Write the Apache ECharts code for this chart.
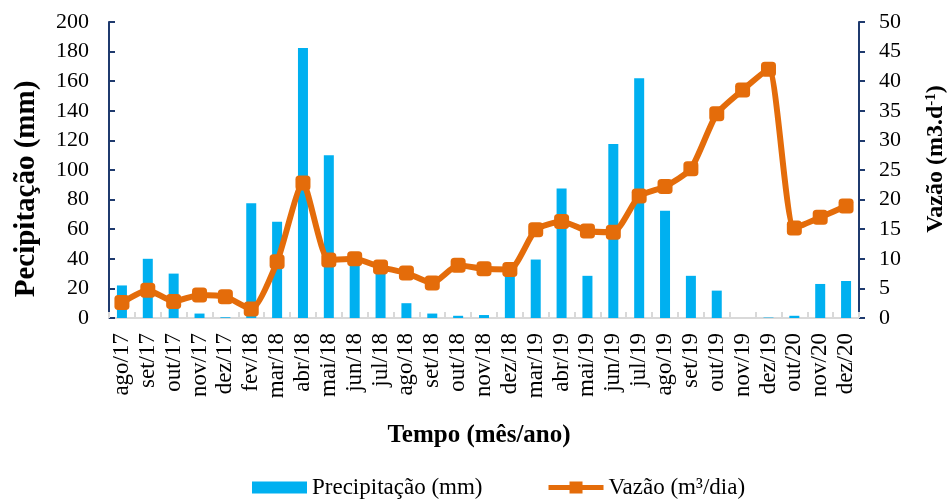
<!DOCTYPE html>
<html>
<head>
<meta charset="utf-8">
<script src="https://cdn.jsdelivr.net/npm/echarts@6/dist/echarts.min.js"></script>
<style>
html,body{margin:0;padding:0;background:#fff;}
#chart{width:947px;height:499px;}
</style>
</head>
<body>
<div id="chart"></div>
<script>
var categories = ['ago/17','set/17','out/17','nov/17','dez/17','fev/18','mar/18','abr/18','mai/18','jun/18','jul/18','ago/18','set/18','out/18','nov/18','dez/18','mar/19','abr/19','mai/19','jun/19','jul/19','ago/19','set/19','out/19','nov/19','dez/19','out/20','nov/20','dez/20'];
var precipitacao = [22, 40, 30, 3, 0.5, 77.5, 65, 182.5, 110, 38, 33, 10, 3, 1.5, 2, 32, 39.5, 87.5, 28.5, 117.5, 162, 72.5, 28.5, 18.5, 0, 0.3, 1.5, 23, 25];
var vazao = [2.6, 4.7, 2.8, 3.9, 3.6, 1.5, 9.5, 22.8, 9.8, 10, 8.6, 7.6, 5.9, 8.9, 8.3, 8.2, 14.9, 16.3, 14.7, 14.5, 20.6, 22.2, 25.2, 34.5, 38.5, 42, 15.2, 17, 18.9];
var leftTitle = 'Pecipitação (mm)';
var rightTitle = 'Vazão (m3.d{sup|-1})';
var xTitle = 'Tempo (mês/ano)';
var seriesNames = ['Precipitação (mm)', 'Vazão (m³/dia)'];

var FONT = 'Liberation Serif';
var lineIcon = 'path://M0,3.5 L21,3.5 L21,0 L34,0 L34,3.5 L55,3.5 L55,8.5 L34,8.5 L34,12 L21,12 L21,8.5 L0,8.5 Z';
var chart = echarts.init(document.getElementById('chart'), null, {renderer:'canvas'});
chart.setOption({
  backgroundColor: '#ffffff',
  animation: false,
  grid: {left: 109, right: 88, top: 22, bottom: 181},
  legend: {
    left: 247, top: 471,
    itemGap: 66, itemWidth: 55, itemHeight: 12,
    textStyle: {fontFamily: FONT, fontSize: 23, color: '#000'},
    data: [
      {name: seriesNames[0], icon: 'rect'},
      {name: seriesNames[1], icon: lineIcon}
    ]
  },
  xAxis: {
    type: 'category',
    data: categories,
    boundaryGap: true,
    axisLine: {lineStyle: {color: '#d9d9d9', width: 2}},
    axisTick: {show: true, inside: true, length: 6, lineStyle: {color: '#d9d9d9', width: 2}},
    axisLabel: {interval: 0, rotate: 90, margin: 15, fontFamily: FONT, fontSize: 23, color: '#000'}
  },
  yAxis: [
    {
      type: 'value', min: 0, max: 200, interval: 20, position: 'left',
      splitLine: {show: false},
      axisLine: {show: true, lineStyle: {color: '#1f3a6e', width: 2}},
      axisTick: {show: true, inside: true, length: 6, lineStyle: {color: '#1f3a6e', width: 2}},
      axisLabel: {margin: 20, fontFamily: FONT, fontSize: 22, color: '#000'}
    },
    {
      type: 'value', min: 0, max: 50, interval: 5, position: 'right',
      splitLine: {show: false},
      axisLine: {show: true, lineStyle: {color: '#1f3a6e', width: 2}},
      axisTick: {show: true, inside: false, length: 6, lineStyle: {color: '#1f3a6e', width: 2}},
      axisLabel: {margin: 20, fontFamily: FONT, fontSize: 22, color: '#000'}
    }
  ],
  series: [
    {
      name: seriesNames[0], type: 'bar', yAxisIndex: 0,
      data: precipitacao, barWidth: 10,
      itemStyle: {color: '#00b0f0'}
    },
    {
      name: seriesNames[1], type: 'line', yAxisIndex: 1,
      data: vazao, smooth: 0.2,
      symbol: 'roundRect', symbolSize: 15,
      lineStyle: {color: '#e46c0a', width: 6},
      itemStyle: {color: '#e46c0a', borderColor: '#e46c0a', borderWidth: 0},
      z: 3
    }
  ],
  graphic: [
    {
      type: 'text', x: 27, y: 189, rotation: Math.PI / 2,
      style: {text: leftTitle, font: 'bold 29px "Liberation Serif"', fill: '#000', align: 'center', verticalAlign: 'middle'}
    },
    {
      type: 'text', x: 936, y: 159, rotation: Math.PI / 2,
      style: {
        text: rightTitle, font: 'bold 24px "Liberation Serif"', fill: '#000', align: 'center', verticalAlign: 'middle',
        rich: {sup: {font: 'bold 15px "Liberation Serif"', fill: '#000', verticalAlign: 'top', padding: [0,0,10,0]}}
      }
    },
    {
      type: 'text', x: 479, y: 436,
      style: {text: xTitle, font: 'bold 25px "Liberation Serif"', fill: '#000', align: 'center', verticalAlign: 'middle'}
    }
  ]
});
</script>
</body>
</html>
